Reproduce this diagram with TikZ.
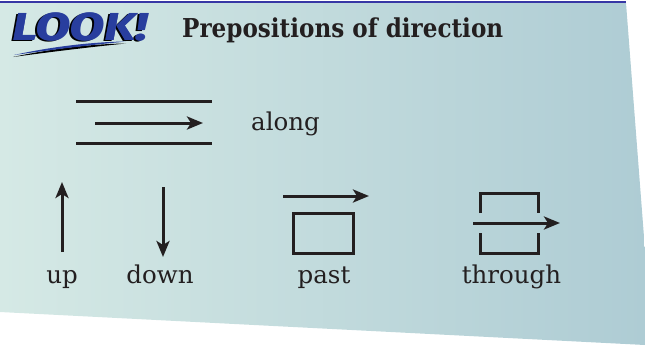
\documentclass[tikz,border=0pt]{standalone}
\usepackage{fontspec}
\usepackage{graphicx}
\setmainfont{DejaVu Serif}
\newfontfamily\lookfont{Fira Sans}
\usetikzlibrary{arrows.meta}
\definecolor{ink}{RGB}{35,31,32}
\definecolor{bgL}{RGB}{213,233,229}
\definecolor{bgR}{RGB}{174,204,212}
\definecolor{lookblue}{RGB}{40,62,158}
\definecolor{rulecol}{RGB}{55,55,165}
\newcommand\looktext{\resizebox{135pt}{\height}{\lookfont\bfseries\itshape\fontsize{39}{40}\selectfont LOOK!}}
\begin{document}
\begin{tikzpicture}[x=1pt,y=-1pt,
  stroke/.style={draw=ink,line width=3pt},
  arr/.style={stroke,-{Stealth[length=16pt,width=13pt,inset=4pt]}},
  lbl/.style={text=ink,inner sep=0pt,anchor=base,font=\fontsize{24.5}{29}\selectfont},
  ttl/.style={text=ink,inner sep=0pt,anchor=base west}]
\useasboundingbox (0,0) rectangle (645,349);
% panel
\shade[left color=bgL,right color=bgR] (0,3) -- (626,3) -- (645,250) -- (645,345) -- (0,312) -- cycle;
\draw[rulecol,line width=1.5pt] (0,2) -- (626,2);
% LOOK! logo
\fill[black] (13,57) .. controls (50,49) and (90,44) .. (126,43.5) .. controls (90,47) and (50,52) .. (13,57) -- cycle;
\fill[lookblue] (14,55) .. controls (50,47) and (90,42) .. (126,41.5) .. controls (90,45) and (50,50) .. (14,55) -- cycle;
\node[ttl,text=black] (lookshadow) at (10,41.5) {\looktext};
\node[ttl,text=lookblue] (look) at (12,40) {\looktext};
\node[ttl,text=lookblue] (lookb) at (12.6,40) {\looktext};
% title
\node[ttl] (title) at (182,37) {\resizebox{321pt}{\height}{\bfseries\fontsize{26}{30}\selectfont Prepositions of direction}};
% along
\coordinate (a1s) at (76,101); \coordinate (a1e) at (212,101);
\coordinate (a2s) at (95,123); \coordinate (a2e) at (203,123);
\coordinate (a3s) at (76,143); \coordinate (a3e) at (212,143);
\draw[stroke] (a1s) -- (a1e);
\draw[arr] (a2s) -- (a2e);
\draw[stroke] (a3s) -- (a3e);
\node[lbl] (along) at (285.5,130) {along};
% up / down
\coordinate (upS) at (62,252); \coordinate (upE) at (62,182);
\draw[arr] (upS) -- (upE);
\coordinate (dnS) at (163,187); \coordinate (dnE) at (163,257);
\draw[arr] (dnS) -- (dnE);
\node[lbl] (up) at (62,283) {up};
\node[lbl] (down) at (160,283) {down};
% past
\coordinate (pS) at (283,196); \coordinate (pE) at (369,196);
\draw[arr] (pS) -- (pE);
\node[stroke,rectangle,minimum width=60pt,minimum height=40pt,inner sep=0pt] (pastbox) at (323,233) {};
\node[lbl] (past) at (324,283) {past};
% through
\draw[stroke] (480,213) -- (480,193) -- (538,193) -- (538,213);
\draw[stroke] (480,233) -- (480,253) -- (538,253) -- (538,233);
\coordinate (tS) at (473,223); \coordinate (tE) at (560,223);
\draw[arr] (tS) -- (tE);
\node[lbl] (through) at (511.5,283) {through};
\end{tikzpicture}
\end{document}
